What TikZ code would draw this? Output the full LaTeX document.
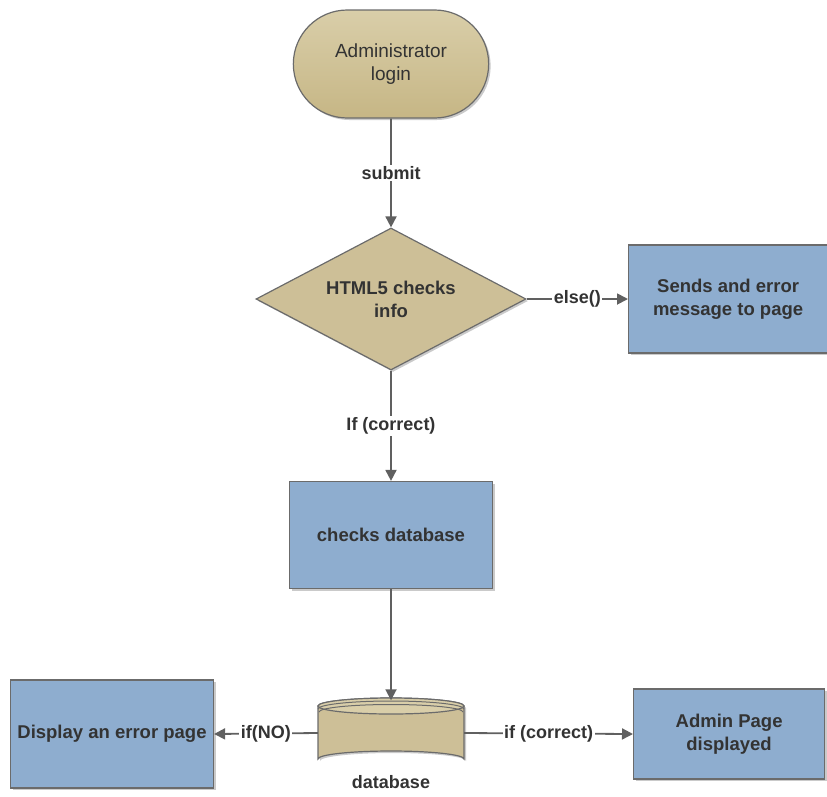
\documentclass[tikz,border=0pt]{standalone}
\usepackage{fontspec}
\setmainfont{Liberation Sans}
\usetikzlibrary{shapes.geometric,shapes.misc,arrows.meta,shadows}
\definecolor{tan}{HTML}{CDBF97}
\definecolor{tantop}{HTML}{D9CEA9}
\definecolor{tanbot}{HTML}{C6B685}
\definecolor{boxblue}{HTML}{8EADCF}
\definecolor{edge}{HTML}{6B6B6B}
\definecolor{arr}{HTML}{606060}
\definecolor{txt}{HTML}{333333}
\tikzset{
  shad/.style={drop shadow={shadow xshift=2pt,shadow yshift=-2pt,opacity=0.35,fill=black!60}},
  term/.style={rounded rectangle,draw=edge,line width=1.2pt,top color=tantop,bottom color=tanbot,minimum width=202pt,minimum height=108pt,shad,text=txt,font=\fontsize{19}{23}\selectfont,align=center},
  dec/.style={diamond,draw=edge,line width=1.2pt,fill=tan,minimum width=270pt,minimum height=142pt,aspect=1.9,inner sep=0pt,shad,text=txt,font=\fontsize{18.5}{23}\selectfont\bfseries,align=center},
  proc/.style={rectangle,draw=edge,line width=1.2pt,fill=boxblue,shad,text=txt,font=\fontsize{18.5}{23}\selectfont\bfseries,align=center},
  conn/.style={draw=arr,line width=1.8pt,-{Triangle[length=11pt,width=11pt]}},
  lbl/.style={fill=white,inner sep=1.5pt,text=txt,font=\fontsize{18}{22}\selectfont\bfseries}
}
\begin{document}
\begin{tikzpicture}[x=1pt,y=-1pt]
\useasboundingbox (0,0) rectangle (827,796);
\node[term] (start) at (391,64) {Administrator\\login};
\node[dec] (chk) at (391,299) {HTML5 checks\\info};
\node[proc,minimum width=199pt,minimum height=108pt,anchor=west] (send) at (628,299) {Sends and error\\message to page};
\node[proc,minimum width=203pt,minimum height=107pt] (cdb) at (391,535) {checks database};
\node[proc,minimum width=203pt,minimum height=108pt] (err) at (112,734) {Display an error page};
\node[proc,minimum width=191pt,minimum height=90pt,anchor=west] (adm) at (633,734) {Admin Page\\displayed};
% database cylinder
\node[minimum width=146pt,minimum height=67pt,inner sep=0pt] (db) at (391,733) {};
\begin{scope}
\fill[black!60,opacity=0.35,shift={(2,2)}] (318,706) -- (318,759) arc[start angle=180,end angle=360,x radius=73,y radius=8] -- (464,706) arc[start angle=0,end angle=-180,x radius=73,y radius=8] -- cycle;
\filldraw[fill=tan,draw=edge,line width=1.2pt] (318,706) -- (318,759) arc[start angle=180,end angle=360,x radius=73,y radius=8] -- (464,706) arc[start angle=0,end angle=-180,x radius=73,y radius=8] -- cycle;
\filldraw[fill=tantop,draw=edge,line width=1.2pt] (391,706) ellipse[x radius=73,y radius=8];
\draw[edge,line width=1pt] (318,709) arc[start angle=180,end angle=360,x radius=73,y radius=8];
\draw[edge,line width=1pt] (319,712) arc[start angle=180,end angle=360,x radius=72,y radius=7.5];
\end{scope}
\node[text=txt,font=\fontsize{18}{22}\selectfont\bfseries] (dblbl) at (391,782) {database};
% connectors
\draw[conn] (start) -- node[lbl] {submit} (chk);
\draw[conn] (chk.east) -- node[lbl] {else()} (send.west);
\draw[conn] (chk.south) -- node[lbl] {If (correct)} (cdb.north);
\draw[conn] (cdb.south) -- ([yshift=-1pt]db.north);
\draw[conn] (db.west) -- node[lbl] {if(NO)} (err.east);
\draw[conn] (db.east) -- node[lbl] {if (correct)} (adm.west);
\end{tikzpicture}
\end{document}
